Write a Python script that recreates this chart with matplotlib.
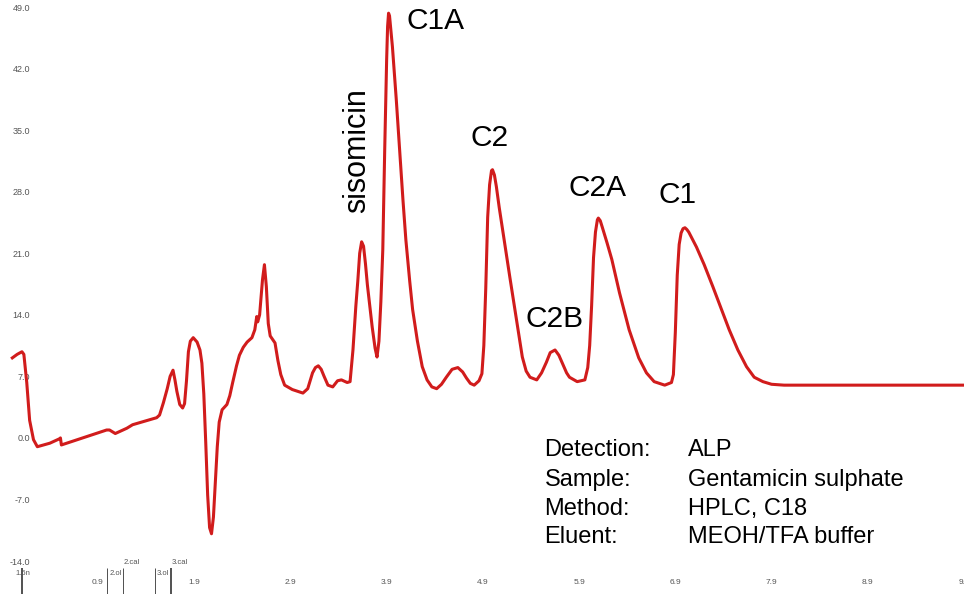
import matplotlib
matplotlib.use("Agg")
import matplotlib.pyplot as plt

# chromatogram trace (time in min, signal)
time = [0.01, 0.06, 0.11, 0.13, 0.16, 0.19, 0.23, 0.27, 0.40, 0.50,
        0.51, 0.52, 0.74, 0.99, 1.02, 1.08, 1.20, 1.26, 1.51, 1.54,
        1.58, 1.62, 1.65, 1.68, 1.70, 1.72, 1.75, 1.78, 1.80, 1.82,
        1.84, 1.86, 1.89, 1.93, 1.96, 1.98, 2.00, 2.02, 2.04, 2.06,
        2.08, 2.10, 2.12, 2.14, 2.16, 2.19, 2.24, 2.27, 2.30, 2.34,
        2.37, 2.41, 2.45, 2.50, 2.53, 2.55, 2.56, 2.58, 2.61, 2.63,
        2.65, 2.67, 2.69, 2.74, 2.77, 2.80, 2.84, 2.92, 3.03, 3.08,
        3.13, 3.16, 3.19, 3.22, 3.25, 3.29, 3.34, 3.39, 3.43, 3.49,
        3.52, 3.55, 3.58, 3.60, 3.62, 3.64, 3.66, 3.68, 3.70, 3.75,
        3.78, 3.80, 3.82, 3.84, 3.86, 3.88, 3.90, 3.91, 3.92, 3.93,
        3.94, 3.96, 3.98, 4.00, 4.04, 4.07, 4.10, 4.14, 4.17, 4.22,
        4.27, 4.32, 4.37, 4.42, 4.47, 4.52, 4.58, 4.64, 4.69, 4.73,
        4.77, 4.81, 4.86, 4.89, 4.91, 4.93, 4.95, 4.97, 4.99, 5.00,
        5.02, 5.04, 5.07, 5.11, 5.18, 5.25, 5.31, 5.35, 5.39, 5.46,
        5.51, 5.56, 5.60, 5.65, 5.69, 5.73, 5.77, 5.80, 5.88, 5.96,
        5.99, 6.01, 6.03, 6.05, 6.07, 6.09, 6.10, 6.12, 6.14, 6.19,
        6.24, 6.32, 6.42, 6.52, 6.60, 6.68, 6.79, 6.86, 6.88, 6.90,
        6.92, 6.94, 6.96, 6.98, 7.00, 7.02, 7.04, 7.12, 7.20, 7.29,
        7.38, 7.46, 7.55, 7.64, 7.72, 7.81, 7.90, 8.03, 9.95]
signal = [9.1, 9.5, 9.8, 9.5, 6.3, 2.0, -0.2, -1.0, -0.6, -0.1,
          0.0, -0.8, 0.0, 0.9, 0.9, 0.5, 1.1, 1.5, 2.3, 2.6,
          4.0, 5.6, 7.0, 7.7, 6.6, 5.3, 3.8, 3.4, 3.9, 6.5,
          9.8, 11.0, 11.4, 10.9, 10.0, 8.5, 5.0, -0.5, -6.5, -10.2,
          -10.9, -9.0, -5.0, -1.0, 1.8, 3.2, 3.8, 4.8, 6.3, 8.2,
          9.4, 10.3, 10.9, 11.4, 12.3, 13.8, 13.2, 14.0, 18.0, 19.7,
          17.2, 13.0, 11.6, 10.8, 8.8, 7.2, 6.0, 5.5, 5.1, 5.6,
          7.4, 8.0, 8.2, 7.8, 7.0, 6.0, 5.8, 6.5, 6.6, 6.3,
          6.4, 10.0, 15.0, 17.8, 21.0, 22.3, 21.8, 19.8, 17.4, 12.6,
          10.2, 9.2, 11.0, 15.5, 21.4, 32.8, 43.0, 46.8, 48.3, 48.0,
          46.8, 44.5, 41.5, 38.5, 32.0, 27.0, 22.5, 17.8, 14.6, 11.0,
          8.1, 6.6, 5.8, 5.6, 6.1, 6.9, 7.8, 8.0, 7.5, 6.8,
          6.2, 6.0, 6.5, 7.3, 10.5, 17.0, 25.1, 28.8, 30.4, 30.5,
          29.9, 28.6, 26.2, 23.3, 18.3, 13.4, 9.2, 7.6, 6.9, 6.6,
          7.4, 8.6, 9.7, 10.0, 9.4, 8.4, 7.4, 6.9, 6.4, 6.6,
          8.0, 10.5, 15.0, 20.5, 23.4, 24.8, 25.0, 24.7, 24.0, 22.2,
          20.3, 16.5, 12.3, 9.1, 7.4, 6.4, 6.0, 6.3, 7.2, 12.0,
          18.5, 22.0, 23.3, 23.8, 23.9, 23.7, 23.4, 21.7, 19.7, 17.2,
          14.6, 12.3, 10.0, 8.1, 6.9, 6.4, 6.1, 6.0, 6.0]

x_ticks = [0.9, 1.9, 2.9, 3.9, 4.9, 5.9, 6.9, 7.9, 8.9, 9.9]
y_ticks = [-14, -7, 0, 7, 14, 21, 28, 35, 42, 49]

peak_names = ["sisomicin", "C1A", "C2", "C2B", "C2A", "C1"]
info_keys = ["Detection:", "Sample:", "Method:", "Eluent:"]
info_vals = ["ALP", "Gentamicin sulphate", "HPLC, C18", "MEOH/TFA buffer"]

# event markers of the acquisition software
event_times = [0.11, 0.99, 1.16, 1.49, 1.66]
event_labels = ["1.6n", "2.ol", "2.cal", "3.ol", "3.cal"]

plt.rcParams['font.family'] = ['Liberation Sans', 'DejaVu Sans']

fig = plt.figure(figsize=(9.64, 5.94), dpi=100)
ax = fig.add_axes([0, 0, 1, 1])
ax.plot(time, signal, color='#d11c1c', lw=2.2, solid_joinstyle='round')

ax.set_xlim(-0.118, 9.89)
ax.set_ylim(-17.75, 49.8)
for s in ax.spines.values():
    s.set_visible(False)

ax.set_xticks(x_ticks, [f"{v:.1f}" for v in x_ticks])
ax.set_yticks(y_ticks, [f"{v:.1f}" for v in y_ticks])
ax.tick_params(axis='x', length=0, pad=-11, labelsize=6, labelcolor='#555555')
ax.tick_params(axis='y', length=0, pad=-21.5, labelsize=6.5, labelcolor='#555555')

# peak labels
ax.text(3.59, 32.7, peak_names[0], rotation=90, fontsize=22, ha='center', va='center')
ax.text(4.41, 46.5, peak_names[1], fontsize=21.5, ha='center', va='baseline')
ax.text(4.97, 33.2, peak_names[2], fontsize=21.5, ha='center', va='baseline')
ax.text(5.65, 12.6, peak_names[3], fontsize=21.5, ha='center', va='baseline')
ax.text(6.09, 27.5, peak_names[4], fontsize=21.5, ha='center', va='baseline')
ax.text(6.92, 26.7, peak_names[5], fontsize=21.5, ha='center', va='baseline')

# method info block
rows = [-2.1, -5.5, -8.8, -12.0]
for k, v, y in zip(info_keys, info_vals, rows):
    ax.text(5.54, y, k, fontsize=17, ha='left', va='baseline')
    ax.text(7.03, y, v, fontsize=17, ha='left', va='baseline')

# event markers at the bottom left
lw_ev = [1.2, 0.6, 0.6, 0.6, 1.2]
for t, w in zip(event_times, lw_ev):
    ax.vlines(t, -17.75, -14.8, color='#333333', lw=w)
ax.text(0.04, -15.4, event_labels[0], fontsize=5.5, color='#555555', va='center')
ax.text(1.02, -15.4, event_labels[1], fontsize=5.5, color='#555555', va='center')
ax.text(1.17, -14.2, event_labels[2], fontsize=5.5, color='#555555', va='center')
ax.text(1.51, -15.4, event_labels[3], fontsize=5.5, color='#555555', va='center')
ax.text(1.67, -14.2, event_labels[4], fontsize=5.5, color='#555555', va='center')

fig.savefig("out.png", dpi=100)
